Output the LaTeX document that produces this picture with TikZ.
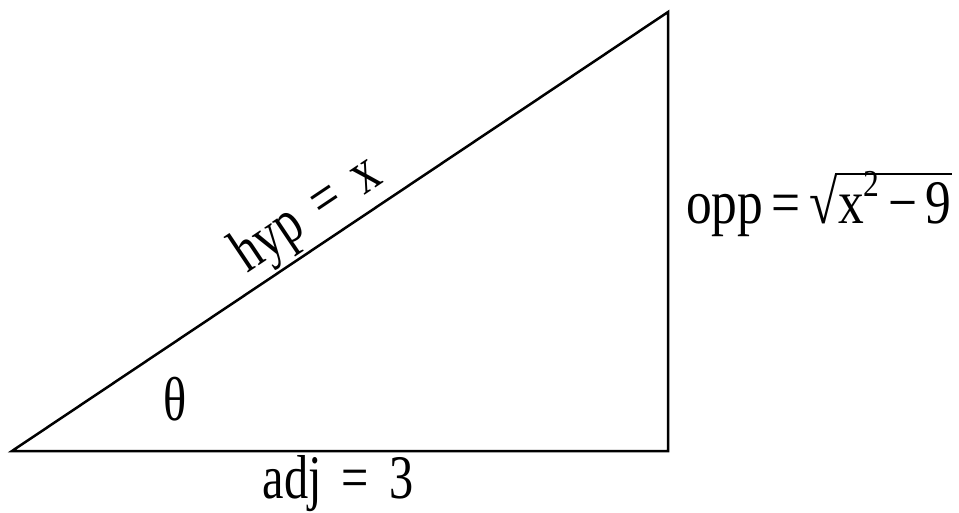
\documentclass[tikz,border=0pt]{standalone}
\usepackage{fontspec}
\setmainfont{Liberation Serif}
\newcommand{\cx}[1]{\scalebox{0.78}[1]{#1}}
\newcommand{\cw}[1]{\scalebox{0.83}[1]{#1}}
\newcommand{\supii}{\raisebox{0.42em}{\fontsize{38}{42}\selectfont 2}}
\begin{document}
\begin{tikzpicture}[x=1pt,y=-1pt,
  lbl/.style={inner sep=0pt, font=\fontsize{62}{66}\selectfont},
  edge/.style={line width=2.5pt}]
\useasboundingbox (0,0) rectangle (959,512);
\coordinate (A) at (12,451);
\coordinate (B) at (668,451);
\coordinate (C) at (668,12);
\draw[edge] (A) -- (B) -- (C) -- cycle;
\node[lbl, anchor=base] (adj) at (338,498) {\cx{adj\, = \,3}};
\node[lbl, anchor=base] (th) at (175,420) {\cx{θ}};
\node[lbl, anchor=base, rotate=33.8] (hyp) at (316,228) {\cx{hyp\, = \,x}};
\node[lbl, anchor=base west] (opp) at (686,223) {\cw{opp\,=\,√}};
\node[lbl, anchor=base west] (rad) at (opp.base east) {\cw{x\supii\,−\,9}};
\draw[line width=2pt] ([xshift=-3pt]rad.base west) ++(0,-49) coordinate (r1) -- (r1 -| rad.east);
\end{tikzpicture}
\end{document}
